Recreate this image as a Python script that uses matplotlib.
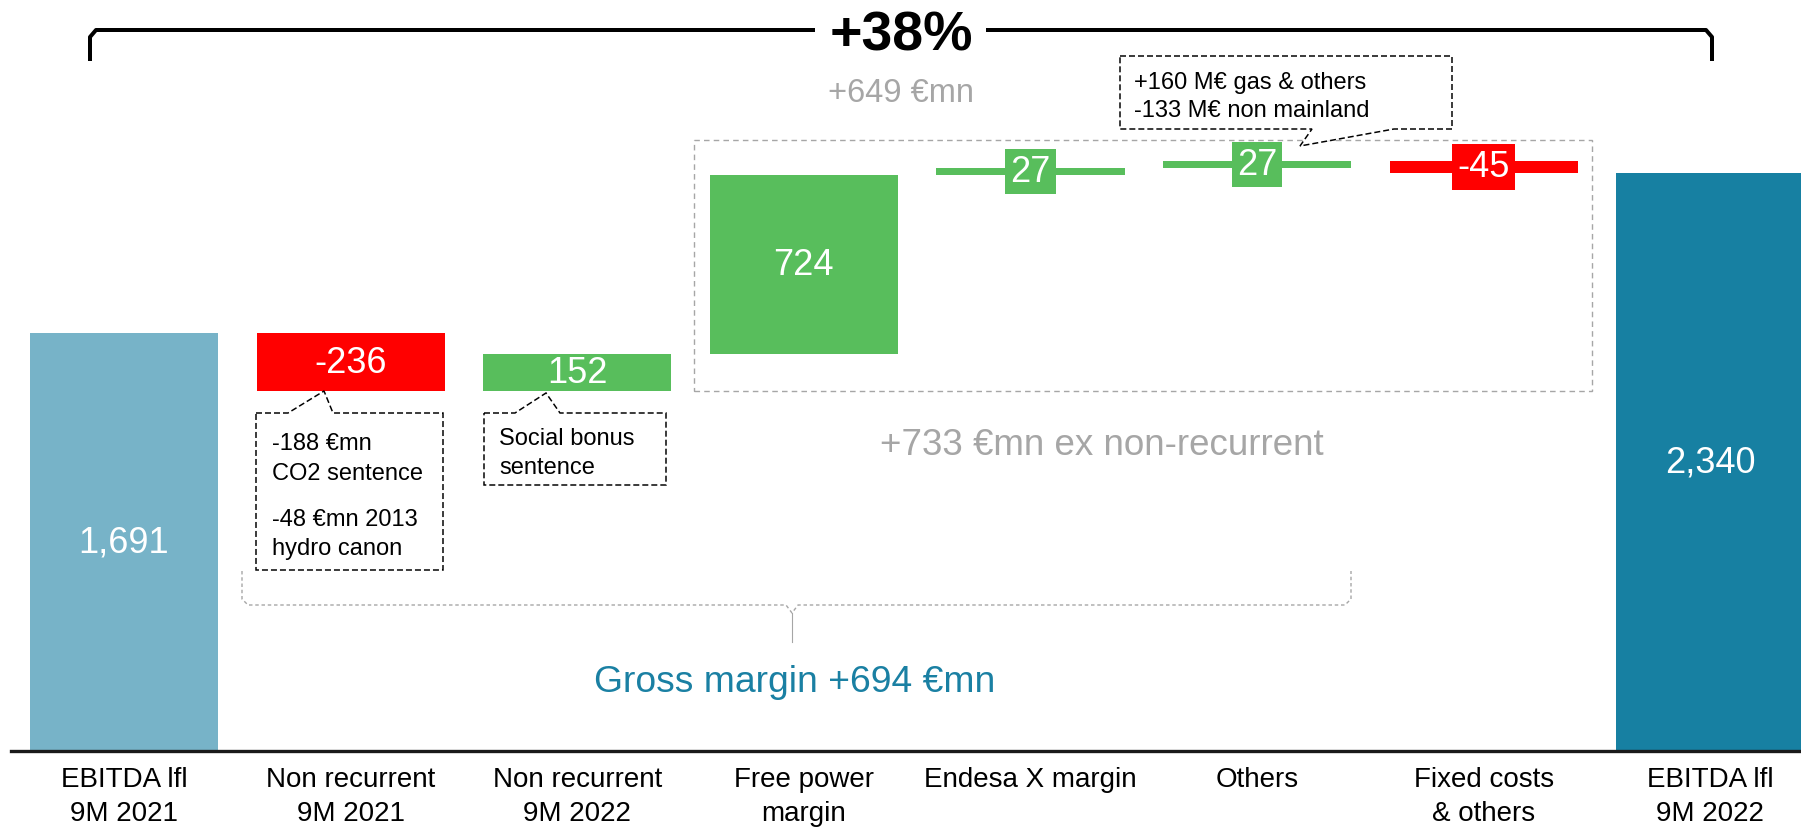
import matplotlib
matplotlib.use('Agg')
import matplotlib.pyplot as plt
import numpy as np
from matplotlib.patches import Polygon, Rectangle

# canvas size of the reference, in pixels
W, H = 1801, 828
DPI = 100

plt.rcParams['font.family'] = ['Liberation Sans', 'DejaVu Sans']

# data
categories = ['EBITDA lfl\n9M 2021', 'Non recurrent\n9M 2021', 'Non recurrent\n9M 2022',
              'Free power\nmargin', 'Endesa X margin', 'Others', 'Fixed costs\n& others',
              'EBITDA lfl\n9M 2022']
values = [1691, -236, 152, 724, 27, 27, -45, 2340]
is_total = [True, False, False, False, False, False, False, True]
value_labels = ['1,691', '-236', '152', '724', '27', '27', '-45', '2,340']

total_growth = '+38%'
ex_nonrec_text = '+649 €mn'
ex_nonrec_733 = '+733 €mn ex non-recurrent'
gross_margin_text = 'Gross margin +694 €mn'
note_co2 = ['-188 €mn', 'CO2 sentence']
note_hydro = ['-48 €mn 2013', 'hydro canon']
note_social = ['Social bonus', 'sentence']
note_others = ['+160 M€ gas & others', '-133 M€ non mainland']

# colours
C_START = '#77B3C8'
C_END = '#1780A2'
C_UP = '#58BE5C'
C_DOWN = '#FF0000'
C_GREY = '#A6A6A6'
C_TEAL = '#1A80A3'


def fxy(x, y):
    # reference pixel -> figure fraction
    return x / W, 1 - y / H


def ptxt(x, y, s, size, color='black', weight='normal', ha='center'):
    # place text so that the middle of its cap height sits at pixel y
    size_px = size * DPI / 72
    fig.text(*fxy(x, y + 0.358 * size_px), s, fontsize=size, color=color,
             fontweight=weight, ha=ha, va='baseline')


fig = plt.figure(figsize=(W / DPI, H / DPI), dpi=DPI)
ax = fig.add_axes([0, 76 / H, 1, 752 / H])

# waterfall geometry
bottoms, heights, colors = [], [], []
running = 0
for v, tot in zip(values, is_total):
    if tot:
        bottoms.append(0)
        heights.append(v)
        running = v
    else:
        bottoms.append(running + min(v, 0))
        heights.append(abs(v))
        running += v
    if tot:
        colors.append(C_START if not bottoms[:-1] else C_END)
    else:
        colors.append(C_UP if v >= 0 else C_DOWN)

x = np.arange(len(values))
ax.bar(x, heights, bottom=bottoms, width=0.83, color=colors, linewidth=0)

for xi, b, h, lab, col in zip(x, bottoms, heights, value_labels, colors):
    yc = b + h / 2
    if h < 60:
        ax.text(xi, yc, lab, ha='center', va='center', fontsize=26, color='white',
                bbox=dict(boxstyle='square,pad=0.14', fc=col, ec='none'))
    else:
        ax.text(xi, yc, lab, ha='center', va='center', fontsize=26, color='white')

ax.set_xlim(-0.547, 7.40)
ax.set_ylim(0, 3042)
for s in ax.spines.values():
    s.set_visible(False)
ax.set_yticks([])
ax.set_xticks(x, categories, fontsize=20, linespacing=1.38)
ax.tick_params(axis='x', length=0, pad=11)
ax.axhline(0, xmin=11 / W, xmax=1, color='#1a1a1a', lw=2.4, clip_on=False)

# top bracket with +38%
lw_br = 4 * 72 / DPI
for seg in ([(90, 62), (90, 38), (96, 31), (815, 31)],
            [(986, 31), (1706, 31), (1712, 38), (1712, 62)]):
    pts = np.array([fxy(px, py) for px, py in seg])
    fig.add_artist(plt.Line2D(pts[:, 0], pts[:, 1], color='black', lw=lw_br,
                              solid_joinstyle='round', solid_capstyle='butt'))
ptxt(901, 31, total_growth, 40, weight='bold')
ptxt(901, 90, ex_nonrec_text, 23.5, color=C_GREY)

# grey dashed box around recurrent items
x0, y0 = fxy(694, 392)
x1, y1 = fxy(1592, 141)
fig.add_artist(Rectangle((x0, y0), x1 - x0, y1 - y0, transform=fig.transFigure,
                         fill=False, ec=C_GREY, lw=1.0, ls=(0, (4, 3))))
ptxt(1102, 442, ex_nonrec_733, 26.5, color=C_GREY)


def callout(box, base, tip, top=True):
    bx0, by0, bx1, by1 = box
    if top:
        pts = [(bx0, by0), (base[0], by0), tip, (base[1], by0), (bx1, by0),
               (bx1, by1), (bx0, by1)]
    else:
        pts = [(bx0, by0), (bx1, by0), (bx1, by1), (base[1], by1), tip,
               (base[0], by1), (bx0, by1)]
    fig.add_artist(Polygon([fxy(*p) for p in pts], closed=True, transform=fig.transFigure,
                           fc='white', ec='black', lw=1.5 * 72 / DPI, ls=(0, (4, 2))))


callout((256, 414, 443, 571), (288, 333), (324, 392))
for yy, s in zip([442, 472], note_co2):
    ptxt(272, yy, s, 17, ha='left')
for yy, s in zip([518, 547], note_hydro):
    ptxt(272, yy, s, 17, ha='left')

callout((484, 414, 666, 486), (515, 560), (546, 394))
for yy, s in zip([437, 466], note_social):
    ptxt(499, yy, s, 17, ha='left')

callout((1120, 57, 1452, 130), (1312, 1394), (1300, 147), top=False)
for yy, s in zip([81, 109], note_others):
    ptxt(1134, yy, s, 17, ha='left')

# gross margin brace
brace = [(242, 572), (242, 600), (248, 606), (786, 606), (792, 614), (798, 606),
         (1345, 606), (1351, 600), (1351, 572)]
pts = np.array([fxy(*p) for p in brace])
fig.add_artist(plt.Line2D(pts[:, 0], pts[:, 1], color=C_GREY, lw=1.0, ls=(0, (2.5, 2))))
stem = np.array([fxy(792, 614), fxy(792, 643)])
fig.add_artist(plt.Line2D(stem[:, 0], stem[:, 1], color=C_GREY, lw=0.8))
ptxt(795, 679, gross_margin_text, 26.8, color=C_TEAL)

fig.savefig('out.png', dpi=DPI)
